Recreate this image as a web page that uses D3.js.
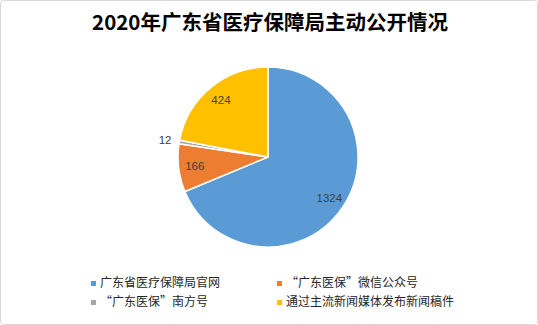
<!DOCTYPE html>
<html>
<head>
<meta charset="utf-8">
<script src="https://cdn.jsdelivr.net/npm/d3@7"></script>
<style>
  body { margin: 0; background: #fff; }
  svg { display: block; font-family: "Noto Sans CJK SC", sans-serif; }
</style>
</head>
<body>
<svg id="chart" width="538" height="325"></svg>
<script>
  // chart data
  var title = "2020年广东省医疗保障局主动公开情况";
  var categories = ["广东省医疗保障局官网", "“广东医保”微信公众号", "“广东医保”南方号", "通过主流新闻媒体发布新闻稿件"];
  var values = [1324, 166, 12, 424];
  var colors = ["#5B9BD5", "#ED7D31", "#A5A5A5", "#FFC000"];

  var svg = d3.select("#chart");
  var W = 538, H = 325;

  svg.append("rect")
    .attr("x", 0.5).attr("y", 0.5)
    .attr("width", W - 1).attr("height", H - 1)
    .attr("rx", 3)
    .attr("fill", "#fff")
    .attr("stroke", "#d9d9d9");

  svg.append("text")
    .attr("x", 270).attr("y", 30)
    .attr("text-anchor", "middle")
    .attr("font-size", "20.5px")
    .attr("font-weight", "bold")
    .attr("fill", "#000")
    .text(title);

  var cx = 268, cy = 157, r = 90;
  var data = categories.map(function (c, i) { return { name: c, value: values[i], color: colors[i] }; });

  var pie = d3.pie().sort(null).value(function (d) { return d.value; });
  var arc = d3.arc().innerRadius(0).outerRadius(r);
  var arcs = pie(data);

  var g = svg.append("g").attr("transform", "translate(" + cx + "," + cy + ")");
  g.selectAll("path").data(arcs).enter().append("path")
    .attr("d", arc)
    .attr("fill", function (d) { return d.data.color; })
    .attr("stroke", "#fff")
    .attr("stroke-width", 1.5)
    .attr("stroke-linejoin", "round");

  // labels: inside for larger slices, outside for tiny one
  var inner = d3.arc().innerRadius(r * 0.82).outerRadius(r * 0.82);
  var outer = d3.arc().innerRadius(r * 1.16).outerRadius(r * 1.16);
  g.selectAll("text.lbl").data(arcs).enter().append("text")
    .attr("class", "lbl")
    .attr("transform", function (d) {
      var p = (d.endAngle - d.startAngle) < 0.1 ? outer.centroid(d) : inner.centroid(d);
      return "translate(" + p + ")";
    })
    .attr("text-anchor", "middle")
    .attr("dy", "0.35em")
    .attr("font-size", "11.5px")
    .attr("font-family", "Liberation Sans, Arial, sans-serif")
    .attr("fill", "#404040")
    .text(function (d) { return d.data.value; });

  // legend
  var legX = [91, 277], legY = [286, 305];
  var leg = svg.selectAll("g.leg").data(data).enter().append("g")
    .attr("class", "leg")
    .attr("transform", function (d, i) { return "translate(" + legX[i % 2] + "," + legY[Math.floor(i / 2)] + ")"; });
  leg.append("rect")
    .attr("x", 0).attr("y", -5)
    .attr("width", 5).attr("height", 5)
    .attr("fill", function (d) { return d.color; });
  leg.append("text")
    .attr("x", 9).attr("y", 0)
    .attr("dy", "0.1em")
    .attr("font-size", "12px")
    .attr("fill", "#262626")
    .text(function (d) { return d.name; });
</script>
</body>
</html>
